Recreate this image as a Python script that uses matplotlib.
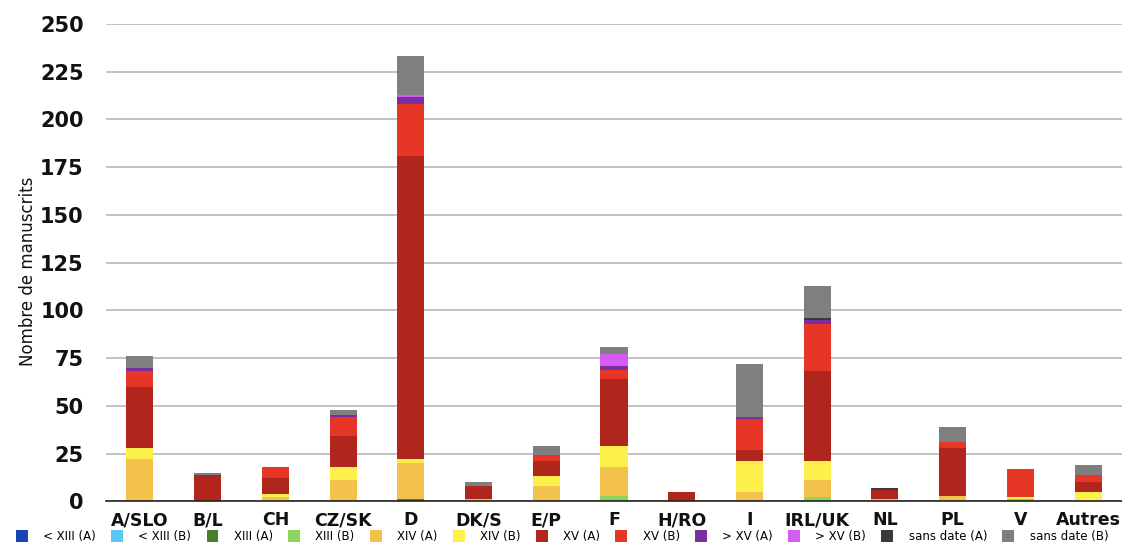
import matplotlib
matplotlib.use("Agg")
import matplotlib.pyplot as plt
import numpy as np
from matplotlib.patches import Patch

categories = ["A/SLO", "B/L", "CH", "CZ/SK", "D", "DK/S", "E/P", "F", "H/RO",
              "I", "IRL/UK", "NL", "PL", "V", "Autres"]

series_names = ["< XIII (A)", "< XIII (B)", "XIII (A)", "XIII (B)", "XIV (A)",
                "XIV (B)", "XV (A)", "XV (B)", "> XV (A)", "> XV (B)",
                "sans date (A)", "sans date (B)"]

lt13_a = [0, 0, 0, 0, 0, 0, 0, 0, 0, 0, 0, 0, 0, 0, 0]
lt13_b = [0, 0, 0, 0, 0, 0, 0, 0, 0, 0, 0, 0, 0, 0, 0]
s13_a = [0, 0, 0, 0, 1, 0, 0, 0, 0, 0, 0, 0, 0, 0, 0]
s13_b = [0, 0, 0, 0, 0, 0, 0, 3, 0, 0, 2, 0, 0, 1, 0]
s14_a = [22, 0, 2, 11, 19, 1, 8, 15, 0, 5, 9, 1, 3, 0, 0]
s14_b = [6, 0, 2, 7, 2, 0, 5, 11, 0, 16, 10, 0, 0, 1, 5]
s15_a = [32, 14, 8, 16, 159, 7, 8, 35, 5, 6, 47, 5, 25, 0, 5]
s15_b = [8, 0, 6, 10, 27, 0, 3, 5, 0, 16, 25, 0, 3, 15, 4]
gt15_a = [2, 0, 0, 1, 4, 0, 0, 2, 0, 1, 2, 0, 0, 0, 0]
gt15_b = [0, 0, 0, 0, 1, 0, 0, 6, 0, 0, 0, 0, 0, 0, 0]
sd_a = [0, 0, 0, 0, 0, 0, 0, 0, 0, 0, 1, 1, 0, 0, 0]
sd_b = [6, 1, 0, 3, 20, 2, 5, 4, 0, 28, 17, 0, 8, 0, 5]

series = [lt13_a, lt13_b, s13_a, s13_b, s14_a, s14_b, s15_a, s15_b,
          gt15_a, gt15_b, sd_a, sd_b]

colors = ["#1a44b0", "#5cc6f5", "#4c7f2a", "#8fd45a", "#f2c24c", "#fbf04c",
          "#b0251c", "#e63626", "#7a2f9e", "#d45cf2", "#3a3a3a", "#7f7f7f"]

fig = plt.figure(figsize=(11.22, 5.45), dpi=100)
ax = fig.add_axes([0.0945, 0.0802, 0.9055, 0.8758])

x = np.arange(len(categories))
bottom = np.zeros(len(categories))
for vals, c in zip(series, colors):
    v = np.array(vals, dtype=float)
    ax.bar(x, v, width=0.4, bottom=bottom, color=c, edgecolor="none", zorder=3)
    bottom += v

ax.set_xlim(-0.5, len(categories) - 0.5)
ax.set_ylim(0, 250)
ax.set_yticks(np.arange(0, 251, 25))
ax.yaxis.grid(True, color="#b8b8b8", linewidth=1.2, zorder=0)
ax.set_axisbelow(True)
for s in ["top", "right", "left"]:
    ax.spines[s].set_visible(False)
ax.spines["bottom"].set_color("#222222")
ax.spines["bottom"].set_linewidth(1.2)
ax.spines["bottom"].set_zorder(4)
ax.tick_params(axis="both", length=0)
ax.tick_params(axis="y", pad=16)
ax.tick_params(axis="x", pad=7)
ax.set_xticks(x)
ax.set_xticklabels(categories, fontsize=12.5, fontweight="bold", color="#111111")
for lab in ax.get_yticklabels():
    lab.set_fontsize(15)
    lab.set_fontweight("bold")
    lab.set_color("#111111")
ax.set_ylabel("Nombre de manuscrits", fontsize=12, color="#111111", labelpad=4)
ax.yaxis.set_label_coords(-0.068, 0.482)

handles = [Patch(facecolor=c, edgecolor="none") for c in colors]
fig.legend(handles, series_names, loc="center", ncol=12,
           bbox_to_anchor=(0.501, 0.0155), frameon=False,
           fontsize=8.5, handlelength=1.0, handleheight=1.1, handletextpad=1.3,
           columnspacing=1.3, borderaxespad=0, borderpad=0)

fig.savefig("out.png", dpi=100)
